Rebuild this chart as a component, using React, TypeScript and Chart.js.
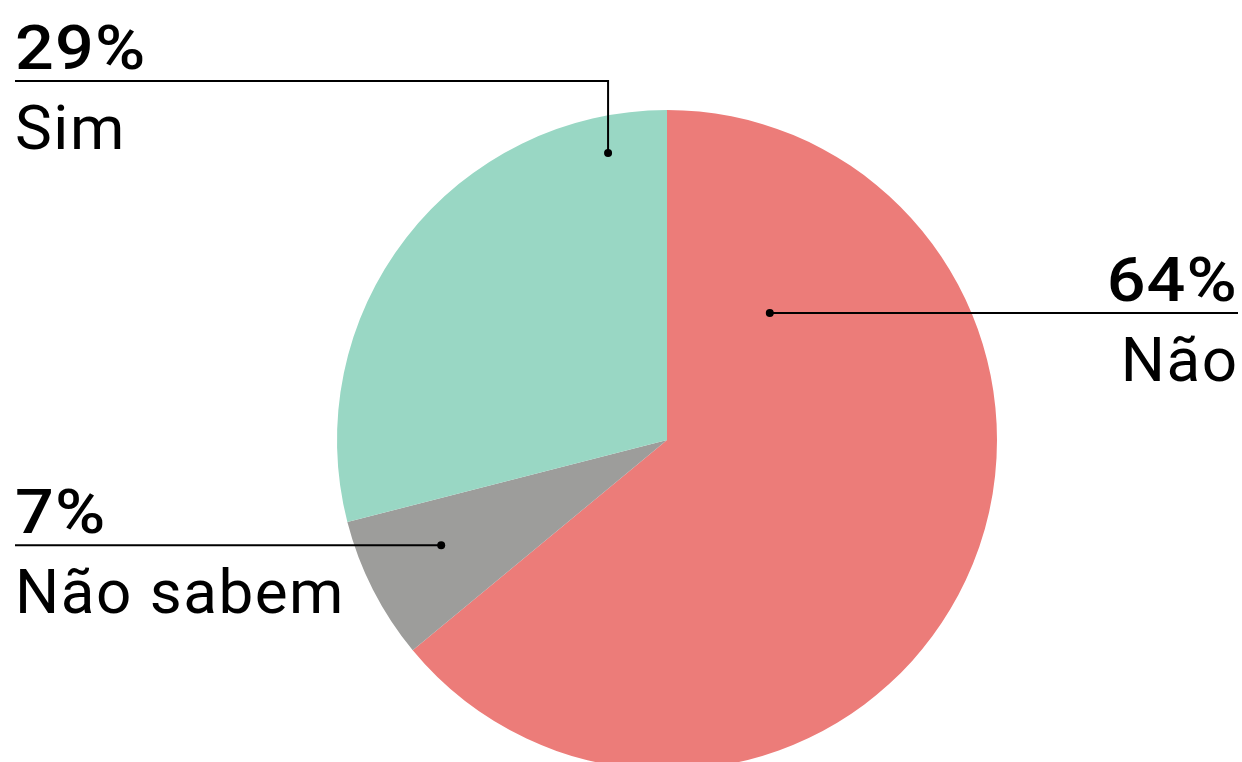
import React, { useEffect, useRef } from "react";
import { Chart, registerables } from "chart.js";

Chart.register(...registerables);

const categories = ["Não", "Não sabem", "Sim"];
const values = [64, 7, 29];
const valueLabels = ["64%", "7%", "29%"];
const colors = ["#EC7C79", "#9D9D9B", "#99D7C4"];

// annotation layout: dot given in polar form relative to pie centre (deg clockwise from top, fraction of radius)
const annotations = [
  { angle: 39, frac: 0.495, side: "right", elbowY: null as number | null },
  { angle: 245, frac: 0.755, side: "left", elbowY: null as number | null },
  { angle: -11.6, frac: 0.888, side: "left", elbowY: 81 as number | null },
];

const PCT_SX = 1.12;
const PCT_LS = 1;
const LBL_LS = 1.5;

const labelPlugin = {
  id: "leaderLabels",
  afterDraw(chart: any) {
    const ctx = chart.ctx;
    const meta = chart.getDatasetMeta(0);
    const W = chart.width;
    ctx.save();
    annotations.forEach((a, i) => {
      const arc = meta.data[i] as any;
      const cx = arc.x, cy = arc.y, R = arc.outerRadius;
      const t = (a.angle * Math.PI) / 180;
      const dx = cx + R * a.frac * Math.sin(t);
      const dy = cy - R * a.frac * Math.cos(t);
      const lineY = a.elbowY !== null ? a.elbowY : dy;
      ctx.strokeStyle = "#000";
      ctx.lineWidth = 2;
      ctx.beginPath();
      if (a.side === "left") {
        ctx.moveTo(15, lineY);
        ctx.lineTo(dx, lineY);
        if (a.elbowY !== null) ctx.lineTo(dx, dy);
      } else {
        ctx.moveTo(W - 4, lineY);
        ctx.lineTo(dx, lineY);
      }
      ctx.stroke();
      ctx.fillStyle = "#000";
      ctx.beginPath();
      ctx.arc(dx, dy, 4, 0, Math.PI * 2);
      ctx.fill();

      const left = a.side === "left";
      ctx.textAlign = left ? "left" : "right";
      ctx.textBaseline = "alphabetic";
      // percentage: slightly widened glyphs
      ctx.save();
      ctx.font = "500 61px Roboto";
      (ctx as any).letterSpacing = PCT_LS + "px";
      const px = left ? 15 : W - 5 + PCT_LS;
      ctx.translate(px, lineY - 12);
      ctx.scale(PCT_SX, 1);
      ctx.fillText(valueLabels[i], 0, 0);
      ctx.restore();
      ctx.font = "400 62px Roboto";
      (ctx as any).letterSpacing = LBL_LS + "px";
      ctx.fillText(categories[i], left ? 15 : W - 5 + LBL_LS, lineY + 68);
    });
    ctx.restore();
  },
};

export default function App() {
  const ref = useRef<HTMLCanvasElement | null>(null);
  useEffect(() => {
    document.body.style.margin = "0";
    document.documentElement.style.overflow = "hidden";
    const chart = new Chart(ref.current as HTMLCanvasElement, {
      type: "pie",
      data: {
        labels: categories,
        datasets: [
          {
            data: values,
            backgroundColor: colors,
            borderWidth: 0,
          },
        ],
      },
      options: {
        responsive: false,
        animation: false,
        devicePixelRatio: 1,
        layout: { padding: { top: 110, left: 337, right: 245, bottom: 30 } },
        plugins: {
          legend: { display: false },
          tooltip: { enabled: false },
        },
      },
      plugins: [labelPlugin],
    });
    return () => chart.destroy();
  }, []);
  return (
    <div style={{ position: "fixed", left: 0, top: 0, width: 1242, height: 762, overflow: "hidden", background: "#fff" }}>
      <canvas ref={ref} width={1242} height={800} style={{ width: 1242, height: 800, display: "block" }} />
    </div>
  );
}
